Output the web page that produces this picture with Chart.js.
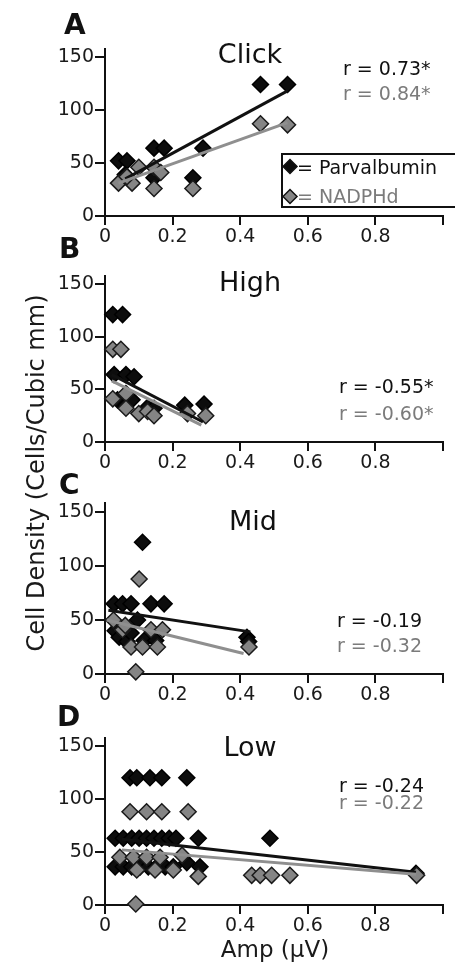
<!DOCTYPE html>
<html>
<head>
<meta charset="utf-8">
<script src="https://cdn.jsdelivr.net/npm/chart.js@4.4.1/dist/chart.umd.min.js"></script>
<style>
  html, body { margin: 0; padding: 0; background: #fff; }
  #wrap { position: relative; width: 455px; height: 965px; }
  #wrap canvas { position: absolute; left: 0; top: 0; }
</style>
</head>
<body>
<div id="wrap">
  <canvas id="panelA" width="455" height="965"></canvas>
  <canvas id="panelB" width="455" height="965"></canvas>
  <canvas id="panelC" width="455" height="965"></canvas>
  <canvas id="panelD" width="455" height="965"></canvas>
</div>
<script>
// ===== DATA =====
const panelLetters = ["A", "B", "C", "D"];
const panelTitles = ["Click", "High", "Mid", "Low"];
const rParv = ["r = 0.73*", "r = -0.55*", "r = -0.19", "r = -0.24"];
const rNadph = ["r = 0.84*", "r = -0.60*", "r = -0.32", "r = -0.22"];
const xTicks = [0, 0.2, 0.4, 0.6, 0.8, 1.0];
const yTicks = [0, 50, 100, 150];

// A - Click
const clickPvX = [0.04, 0.065, 0.06, 0.145, 0.175, 0.145, 0.26, 0.29, 0.46, 0.54];
const clickPvY = [52, 52, 39, 64, 64, 36, 36, 64, 124, 124];
const clickNdX = [0.04, 0.08, 0.065, 0.1, 0.145, 0.165, 0.145, 0.26, 0.46, 0.54];
const clickNdY = [31, 31, 37, 46, 46, 41, 26, 26, 87, 86];
const clickFitPvX = [0.06, 0.54], clickFitPvY = [35, 118];
const clickFitNdX = [0.04, 0.54], clickFitNdY = [31, 88];

// B - High
const highPvX = [0.023, 0.052, 0.027, 0.062, 0.086, 0.037, 0.062, 0.08, 0.126, 0.145, 0.236, 0.293];
const highPvY = [121, 121, 64, 64, 62, 40, 35, 40, 33, 32, 35, 36];
const highNdX = [0.023, 0.047, 0.023, 0.062, 0.062, 0.1, 0.126, 0.145, 0.244, 0.298];
const highNdY = [88, 88, 41, 46, 32, 27, 29, 25, 27, 25];
const highFitPvX = [0.02, 0.29], highFitPvY = [64, 19];
const highFitNdX = [0.02, 0.285], highFitNdY = [58, 16];

// C - Mid
const midPvX = [0.111, 0.027, 0.052, 0.077, 0.136, 0.175, 0.03, 0.042, 0.065, 0.077, 0.096, 0.116, 0.15, 0.42, 0.425];
const midPvY = [122, 65, 65, 65, 65, 65, 40, 34, 30, 38, 50, 31, 31, 34, 30];
const midNdX = [0.101, 0.025, 0.052, 0.06, 0.136, 0.17, 0.077, 0.111, 0.155, 0.091, 0.426];
const midNdY = [88, 50, 41, 45, 41, 41, 25, 25, 25, 2, 25];
const midFitPvX = [0.01, 0.43], midFitPvY = [59, 39];
const midFitNdX = [0.005, 0.41], midFitNdY = [50, 19];

// D - Low
const lowPvX = [0.074, 0.094, 0.133, 0.168, 0.242,
  0.030, 0.054, 0.079, 0.101, 0.123, 0.145, 0.168, 0.190, 0.210, 0.276, 0.488,
  0.030, 0.054, 0.079, 0.104, 0.128, 0.153, 0.178, 0.202, 0.242, 0.281, 0.92];
const lowPvY = [120, 120, 120, 120, 120,
  63, 63, 63, 63, 63, 63, 63, 63, 63, 63, 63,
  36, 36, 36, 36, 36, 36, 36, 36, 40, 36, 30];
const lowNdX = [0.074, 0.123, 0.168, 0.246, 0.044, 0.084, 0.123, 0.163, 0.228,
  0.094, 0.148, 0.202, 0.276, 0.434, 0.459, 0.493, 0.547, 0.922, 0.091];
const lowNdY = [88, 88, 88, 88, 45, 45, 45, 45, 47,
  33, 33, 33, 27, 28, 28, 28, 28, 28, 1];
const lowFitPvX = [0.05, 0.92], lowFitPvY = [62, 31];
const lowFitNdX = [0.05, 0.92], lowFitNdY = [52, 29];

// ===== STYLE / LAYOUT =====
const FONT = "'DejaVu Sans', sans-serif";
const BLACK = "#0d0d0d";
const GRAY = "#858585";
const GRAY_TEXT = "#7b7b7b";
const Y_AXIS_W = 50, X_AXIS_H = 30, AREA_LEFT = 105, AREA_RIGHT = 443;

// page positions of each panel's plot area (top = y value 158, bottom = 0)
const panels = [
  { id: "panelA", top: 48.5, bottom: 216, pv: [clickPvX, clickPvY], nd: [clickNdX, clickNdY],
    fitPv: [clickFitPvX, clickFitPvY], fitNd: [clickFitNdX, clickFitNdY],
    letterXY: [64, 34], titleXY: [250, 63], rX: 343, rY: [75, 100] },
  { id: "panelB", top: 275.6, bottom: 442, pv: [highPvX, highPvY], nd: [highNdX, highNdY],
    fitPv: [highFitPvX, highFitPvY], fitNd: [highFitNdX, highFitNdY],
    letterXY: [59, 258], titleXY: [250, 291], rX: 339, rY: [393, 420] },
  { id: "panelC", top: 503.4, bottom: 674, pv: [midPvX, midPvY], nd: [midNdX, midNdY],
    fitPv: [midFitPvX, midFitPvY], fitNd: [midFitNdX, midFitNdY],
    letterXY: [59, 494], titleXY: [253, 530], rX: 337, rY: [627, 652] },
  { id: "panelD", top: 737.5, bottom: 905, pv: [lowPvX, lowPvY], nd: [lowNdX, lowNdY],
    fitPv: [lowFitPvX, lowFitPvY], fitNd: [lowFitNdX, lowFitNdY],
    letterXY: [57, 726], titleXY: [250, 756], rX: 339, rY: [792, 809] }
];

function toPoints(xs, ys) {
  return xs.map((x, i) => ({ x: x, y: ys[i] }));
}

function diamond(ctx, x, y, r, fill) {
  ctx.beginPath();
  ctx.moveTo(x - r, y);
  ctx.lineTo(x, y - r);
  ctx.lineTo(x + r, y);
  ctx.lineTo(x, y + r);
  ctx.closePath();
  ctx.fillStyle = fill;
  ctx.fill();
  ctx.lineWidth = 1.5;
  ctx.strokeStyle = "#111";
  ctx.stroke();
}

// ===== TEXT PLUGIN (letters, titles, r values, legend, axis titles) =====
const panelText = {
  id: "panelText",
  afterDraw(chart, args, opts) {
    const ctx = chart.ctx;
    const p = panels[opts.index];
    ctx.save();
    ctx.textBaseline = "alphabetic";

    ctx.fillStyle = "#111";
    ctx.textAlign = "left";
    ctx.font = "bold 28px " + FONT;
    ctx.fillText(panelLetters[opts.index], p.letterXY[0], p.letterXY[1]);

    ctx.textAlign = "center";
    ctx.font = "27px " + FONT;
    ctx.fillText(panelTitles[opts.index], p.titleXY[0], p.titleXY[1]);

    ctx.textAlign = "left";
    ctx.font = "19px " + FONT;
    ctx.fillStyle = "#111";
    ctx.fillText(rParv[opts.index], p.rX, p.rY[0]);
    ctx.fillStyle = GRAY_TEXT;
    ctx.fillText(rNadph[opts.index], p.rX, p.rY[1]);

    if (opts.index === 0) {
      // legend box
      ctx.lineWidth = 2;
      ctx.strokeStyle = "#111";
      ctx.strokeRect(282, 154, 190, 53);
      diamond(ctx, 290, 166.5, 7, BLACK);
      diamond(ctx, 290, 196.5, 7, GRAY);
      ctx.font = "19px " + FONT;
      ctx.fillStyle = "#111";
      ctx.fillText("= Parvalbumin", 297, 174);
      ctx.fillStyle = GRAY_TEXT;
      ctx.fillText("= NADPHd", 297, 203);
    }

    if (opts.index === 2) {
      ctx.save();
      ctx.translate(44, 473);
      ctx.rotate(-Math.PI / 2);
      ctx.textAlign = "center";
      ctx.fillStyle = "#1a1a1a";
      ctx.font = "24px " + FONT;
      ctx.fillText("Cell Density (Cells/Cubic mm)", 0, 0);
      ctx.restore();
    }

    if (opts.index === 3) {
      ctx.textAlign = "center";
      ctx.fillStyle = "#1a1a1a";
      ctx.font = "23px " + FONT;
      ctx.fillText("Amp (\u00b5V)", 275, 957);
    }
    ctx.restore();
  }
};

function buildChart(p, index) {
  const ctx = document.getElementById(p.id);
  return new Chart(ctx, {
    type: "scatter",
    data: {
      datasets: [
        { label: "Parvalbumin", data: toPoints(p.pv[0], p.pv[1]), pointStyle: "rectRot",
          pointRadius: 8, backgroundColor: BLACK, borderColor: "#000", borderWidth: 1.5,
          order: 3, clip: false },
        { label: "NADPHd", data: toPoints(p.nd[0], p.nd[1]), pointStyle: "rectRot",
          pointRadius: 8, backgroundColor: GRAY, borderColor: "#1a1a1a", borderWidth: 1.5,
          order: 2, clip: false },
        { label: "Parvalbumin fit", data: toPoints(p.fitPv[0], p.fitPv[1]), showLine: true,
          pointRadius: 0, borderColor: "#111", borderWidth: 3, order: 1, clip: false },
        { label: "NADPHd fit", data: toPoints(p.fitNd[0], p.fitNd[1]), showLine: true,
          pointRadius: 0, borderColor: "#8f8f8f", borderWidth: 3, order: 0, clip: false }
      ]
    },
    options: {
      responsive: false,
      animation: false,
      devicePixelRatio: 1,
      layout: {
        padding: {
          left: AREA_LEFT - Y_AXIS_W,
          right: 455 - AREA_RIGHT,
          top: p.top,
          bottom: 965 - p.bottom - X_AXIS_H
        }
      },
      plugins: {
        legend: { display: false },
        tooltip: { enabled: false },
        panelText: { index: index }
      },
      scales: {
        x: {
          type: "linear",
          min: 0,
          max: 1,
          afterBuildTicks: s => { s.ticks = xTicks.map(v => ({ value: v })); },
          afterFit: s => { s.height = X_AXIS_H; },
          ticks: {
            font: { family: FONT, size: 19 },
            color: "#1a1a1a",
            padding: 1,
            maxRotation: 0,
            callback: v => (v === 0 ? "0" : v >= 1 ? "" : (Math.round(v * 10) / 10).toFixed(1))
          },
          grid: { display: true, drawOnChartArea: false, drawTicks: true, tickLength: 9,
                  color: "#111", lineWidth: 2 },
          border: { display: true, color: "#111", width: 2 }
        },
        y: {
          type: "linear",
          min: 0,
          max: 158,
          afterBuildTicks: s => { s.ticks = yTicks.map(v => ({ value: v })); },
          afterFit: s => { s.width = Y_AXIS_W; },
          ticks: {
            font: { family: FONT, size: 19 },
            color: "#1a1a1a",
            padding: 1
          },
          grid: { display: true, drawOnChartArea: false, drawTicks: true, tickLength: 10,
                  color: "#111", lineWidth: 2 },
          border: { display: true, color: "#111", width: 2 }
        }
      }
    },
    plugins: [panelText]
  });
}

window.chartInstances = panels.map((p, i) => buildChart(p, i));
</script>
</body>
</html>
